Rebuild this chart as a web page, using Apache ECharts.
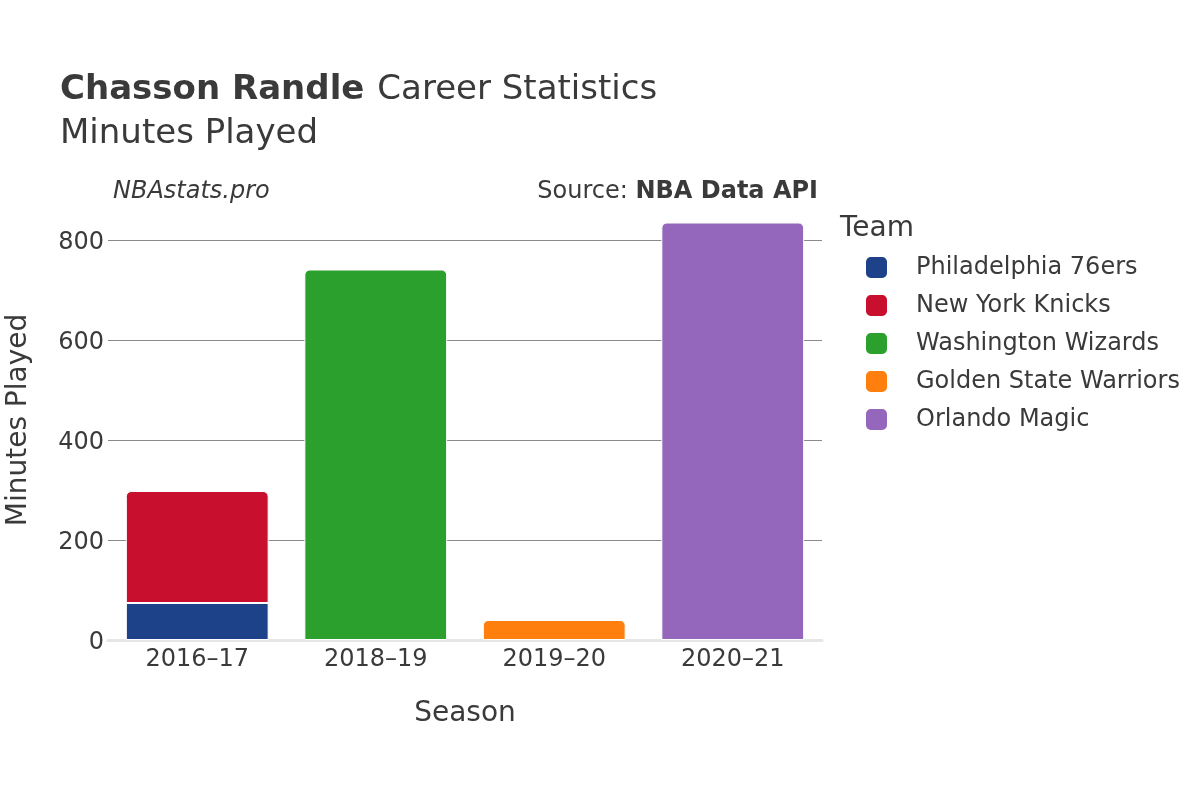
<!DOCTYPE html>
<html><head><meta charset="utf-8">
<script src="https://cdn.jsdelivr.net/npm/echarts@6/dist/echarts.min.js"></script>
<style>html,body{margin:0;padding:0;background:#fff}#c{width:1200px;height:800px}</style>
</head><body><div id="c"></div>
<script>
const seasons = ['2016\u201317', '2018\u201319', '2019\u201320', '2020\u201321'];
const teams = ['Philadelphia 76ers', 'New York Knicks', 'Washington Wizards', 'Golden State Warriors', 'Orlando Magic'];
const teamColors = ['#1d428a', '#c8102e', '#2ca02c', '#ff7f0e', '#9467bd'];
const phi = [74, null, null, null];
const nyk = [224, null, null, null];
const was = [null, 741, null, null];
const gsw = [null, null, 40, null];
const orl = [null, null, null, 835];
const yTicks = [0, 200, 400, 600, 800];

const seriesData = [phi, nyk, was, gsw, orl];
const font = 'DejaVu Sans';
const chart = echarts.init(document.getElementById('c'));
chart.setOption({
  animation: false,
  textStyle: {fontFamily: font},
  title: [
    {text: '{b|Chasson Randle}{g|Career Statistics}\n{n|Minutes Played}', left: 60, top: 68, padding: 0,
     textStyle: {fontWeight: 'normal', rich: {b: {fontFamily: font, fontSize: 34, fontWeight: 'bold', color: '#3a3a3a', lineHeight: 44},
                        g: {fontFamily: font, fontSize: 34, fontWeight: 'normal', color: '#3a3a3a', lineHeight: 44, padding: [0, 0, 0, 13]},
                        n: {fontFamily: font, fontSize: 34, fontWeight: 'normal', color: '#3a3a3a', lineHeight: 44}}}},
    {text: 'NBAstats.pro', left: 113, top: 180, padding: 0, textStyle: {fontFamily: font, fontSize: 24, fontStyle: 'italic', fontWeight: 'normal', color: '#3a3a3a'}},
    {text: '{n|Source: }{b|NBA Data API}', right: 382, top: 180, padding: 0,
     textStyle: {fontWeight: 'normal', rich: {n: {fontFamily: font, fontSize: 24, fontWeight: 'normal', color: '#3a3a3a'}, b: {fontFamily: font, fontSize: 24, fontWeight: 'bold', color: '#3a3a3a'}}}},
    {text: 'Team', left: 840, top: 215, padding: 0, textStyle: {fontFamily: font, fontSize: 28, fontWeight: 'normal', color: '#3a3a3a'}}
  ],
  graphic: [{
    type: 'text', x: 19, y: 420, rotation: Math.PI / 2,
    style: {text: 'Minutes Played', font: '28px "DejaVu Sans"', fill: '#3a3a3a', align: 'center', verticalAlign: 'middle'}
  }],
  legend: {
    orient: 'vertical', left: 864, top: 255, itemWidth: 23, itemHeight: 23, itemGap: 13, padding: 0,
    icon: 'roundRect',
    data: teams,
    textStyle: {fontFamily: font, fontSize: 24, color: '#3a3a3a', padding: [0, 0, 0, 23]}
  },
  grid: {left: 108, right: 378, top: 240, bottom: 160, containLabel: false},
  xAxis: {
    type: 'category', data: seasons,
    name: 'Season', nameLocation: 'middle', nameGap: 60,
    nameTextStyle: {fontFamily: font, fontSize: 28, color: '#3a3a3a'},
    axisLine: {show: true, lineStyle: {color: '#e6e6e6', width: 3}},
    axisTick: {show: false},
    axisLabel: {fontFamily: font, fontSize: 24, color: '#3a3a3a', margin: 8}
  },
  yAxis: {
    type: 'value', min: 0, max: 800, interval: 200,
    axisLine: {show: false}, axisTick: {show: false},
    axisLabel: {fontFamily: font, fontSize: 24, color: '#3a3a3a', margin: 4,
      formatter: '{a|{value}}',
      rich: {a: {fontFamily: font, fontSize: 24, color: '#3a3a3a', padding: [6, 0, 0, 0]}}},
    splitLine: {lineStyle: {color: '#8a8a8a', width: 1}}
  },
  series: teams.map((t, i) => ({
    name: t, type: 'bar', stack: 'total', data: seriesData[i],
    barCategoryGap: '20%', clip: false,
    itemStyle: {color: teamColors[i], borderColor: '#fff', borderWidth: 1,
      borderRadius: i === 0 ? 0 : [5, 5, 0, 0]}
  }))
});
</script></body></html>
